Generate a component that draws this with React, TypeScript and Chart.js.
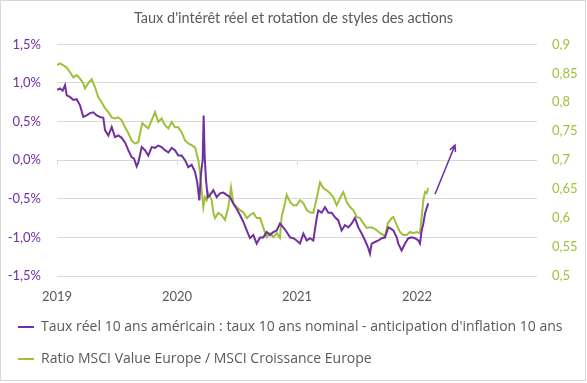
import React, { useEffect, useRef } from "react";
import { Chart, registerables } from "chart.js";

Chart.register(...registerables);

const TITLE = "Taux d'intérêt réel et rotation de styles des actions";
const SERIES_REAL = "Taux réel 10 ans américain : taux 10 ans nominal - anticipation d'inflation 10 ans";
const SERIES_RATIO = "Ratio MSCI Value Europe / MSCI Croissance Europe";

const YEAR_TICKS = [2019, 2020, 2021, 2022];

// US 10y real rate (%), x in decimal years
const realYears = [
  2019.0, 2019.025, 2019.047, 2019.067, 2019.081, 2019.108, 2019.136, 2019.164, 2019.192, 2019.219,
  2019.247, 2019.275, 2019.303, 2019.331, 2019.358, 2019.386, 2019.4, 2019.428, 2019.456, 2019.483,
  2019.511, 2019.539, 2019.567, 2019.594, 2019.622, 2019.642, 2019.664, 2019.678, 2019.706, 2019.733,
  2019.761, 2019.789, 2019.817, 2019.844, 2019.872, 2019.9, 2019.928, 2019.956, 2019.983, 2020.011,
  2020.039, 2020.067, 2020.094, 2020.122, 2020.15, 2020.169, 2020.186, 2020.2, 2020.214, 2020.222,
  2020.231, 2020.242, 2020.256, 2020.275, 2020.303, 2020.331, 2020.358, 2020.386, 2020.414, 2020.442,
  2020.469, 2020.497, 2020.525, 2020.553, 2020.581, 2020.608, 2020.636, 2020.664, 2020.692, 2020.719,
  2020.747, 2020.775, 2020.803, 2020.831, 2020.858, 2020.886, 2020.914, 2020.942, 2020.969, 2020.997,
  2021.025, 2021.053, 2021.081, 2021.108, 2021.136, 2021.164, 2021.178, 2021.206, 2021.233, 2021.261,
  2021.289, 2021.317, 2021.344, 2021.372, 2021.4, 2021.428, 2021.456, 2021.483, 2021.511, 2021.539,
  2021.567, 2021.594, 2021.608, 2021.622, 2021.65, 2021.678, 2021.706, 2021.733, 2021.761, 2021.775,
  2021.803, 2021.831, 2021.844, 2021.872, 2021.9, 2021.928, 2021.956, 2021.983, 2022.011, 2022.025,
  2022.039, 2022.053, 2022.067, 2022.081, 2022.094,
];
const realValues = [
  0.91, 0.93, 0.9, 0.97, 0.84, 0.82, 0.78, 0.79, 0.71, 0.56,
  0.58, 0.61, 0.62, 0.58, 0.56, 0.55, 0.39, 0.32, 0.43, 0.3,
  0.32, 0.29, 0.23, 0.13, 0.04, 0.02, -0.08, -0.03, 0.17, 0.13,
  0.06, 0.17, 0.16, 0.19, 0.17, 0.13, 0.1, 0.16, 0.13, 0.06,
  0.06, 0.0, -0.09, -0.06, -0.15, -0.29, -0.52, -0.17, 0.0, 0.58,
  0.04, -0.26, -0.48, -0.45, -0.39, -0.48, -0.43, -0.42, -0.45, -0.48,
  -0.56, -0.63, -0.71, -0.8, -0.91, -1.01, -0.97, -1.08, -1.0, -1.0,
  -0.93, -0.97, -0.93, -0.91, -0.82, -0.87, -0.93, -1.0, -1.01, -1.04,
  -1.08, -0.95, -1.04, -1.01, -1.04, -0.75, -0.65, -0.68, -0.61, -0.68,
  -0.68, -0.74, -0.78, -0.91, -0.84, -0.87, -0.82, -0.75, -0.87, -0.95,
  -1.04, -1.14, -1.21, -1.08, -1.06, -1.04, -1.01, -1.0, -0.87, -0.88,
  -0.91, -1.0, -1.08, -1.17, -1.08, -1.01, -1.0, -1.01, -1.04, -1.08,
  -0.91, -0.82, -0.69, -0.62, -0.56,
];

// MSCI Value Europe / MSCI Growth Europe ratio
const ratioYears = [
  2019.0, 2019.025, 2019.053, 2019.081, 2019.108, 2019.136, 2019.164, 2019.192, 2019.219, 2019.233,
  2019.261, 2019.289, 2019.317, 2019.344, 2019.372, 2019.4, 2019.428, 2019.456, 2019.483, 2019.511,
  2019.539, 2019.567, 2019.594, 2019.622, 2019.65, 2019.678, 2019.692, 2019.711, 2019.733, 2019.761,
  2019.789, 2019.817, 2019.844, 2019.872, 2019.9, 2019.928, 2019.956, 2019.983, 2020.011, 2020.039,
  2020.067, 2020.094, 2020.122, 2020.15, 2020.178, 2020.192, 2020.206, 2020.219, 2020.233, 2020.247,
  2020.261, 2020.289, 2020.303, 2020.317, 2020.344, 2020.372, 2020.4, 2020.428, 2020.45, 2020.469,
  2020.497, 2020.525, 2020.553, 2020.581, 2020.608, 2020.636, 2020.664, 2020.692, 2020.719, 2020.747,
  2020.775, 2020.803, 2020.831, 2020.858, 2020.872, 2020.9, 2020.914, 2020.942, 2020.969, 2020.997,
  2021.025, 2021.053, 2021.081, 2021.108, 2021.136, 2021.164, 2021.192, 2021.219, 2021.247, 2021.275,
  2021.303, 2021.331, 2021.358, 2021.372, 2021.386, 2021.414, 2021.442, 2021.469, 2021.497, 2021.525,
  2021.553, 2021.581, 2021.608, 2021.636, 2021.664, 2021.692, 2021.719, 2021.733, 2021.756, 2021.789,
  2021.803, 2021.831, 2021.858, 2021.886, 2021.914, 2021.942, 2021.969, 2021.997, 2022.025, 2022.039,
  2022.053, 2022.067, 2022.081, 2022.094,
];
const ratioValues = [
  0.864, 0.867, 0.864, 0.86, 0.852, 0.843, 0.847, 0.841, 0.833, 0.824,
  0.833, 0.84, 0.826, 0.809, 0.8, 0.79, 0.783, 0.774, 0.772, 0.774,
  0.769, 0.757, 0.747, 0.734, 0.729, 0.731, 0.747, 0.764, 0.76, 0.755,
  0.769, 0.783, 0.766, 0.772, 0.76, 0.755, 0.766, 0.757, 0.757, 0.748,
  0.734, 0.729, 0.726, 0.722, 0.7, 0.678, 0.648, 0.619, 0.636, 0.631,
  0.643, 0.631, 0.609, 0.6, 0.609, 0.605, 0.597, 0.619, 0.653, 0.626,
  0.619, 0.614, 0.61, 0.6, 0.605, 0.609, 0.6, 0.6, 0.584, 0.567,
  0.574, 0.567, 0.574, 0.566, 0.602, 0.626, 0.64, 0.628, 0.622, 0.622,
  0.631, 0.626, 0.614, 0.61, 0.609, 0.634, 0.662, 0.652, 0.648, 0.643,
  0.636, 0.622, 0.634, 0.64, 0.645, 0.628, 0.619, 0.614, 0.602, 0.6,
  0.591, 0.583, 0.584, 0.583, 0.579, 0.574, 0.571, 0.567, 0.591, 0.6,
  0.602, 0.588, 0.576, 0.571, 0.571, 0.576, 0.574, 0.576, 0.574, 0.602,
  0.631, 0.645, 0.643, 0.652,
];

// annotation arrow (x in years, y on the left % axis)
const arrowFrom = { x: 2022.15, y: -0.44 };
const arrowTo = { x: 2022.317, y: 0.195 };

const PURPLE = "#7030A0";
const GREEN = "#9FC13A";
const GREY_TEXT = "#595959";
const GRID = "#D9D9D9";
const FONT = "Lato, 'Open Sans', sans-serif";
const LEGEND_FONT = "'Open Sans', Lato, sans-serif";

const decorPlugin = {
  id: "decor",
  beforeDatasetsDraw(chart: any) {
    const { ctx, scales } = chart;
    const x = scales.x;
    const y = scales.y;
    const y0 = y.getPixelForValue(0);
    ctx.save();
    ctx.strokeStyle = GRID;
    ctx.lineWidth = 1;
    YEAR_TICKS.forEach((yr) => {
      const px = Math.round(x.getPixelForValue(yr)) + 0.5;
      ctx.beginPath();
      ctx.moveTo(px, y0);
      ctx.lineTo(px, y0 + 5);
      ctx.stroke();
    });
    ctx.restore();
  },
  afterDatasetsDraw(chart: any) {
    const { ctx, scales } = chart;
    const x = scales.x;
    const y = scales.y;
    const x1 = x.getPixelForValue(arrowFrom.x);
    const y1 = y.getPixelForValue(arrowFrom.y);
    const x2 = x.getPixelForValue(arrowTo.x);
    const y2 = y.getPixelForValue(arrowTo.y);
    const ang = Math.atan2(y2 - y1, x2 - x1);
    const head = 7;
    ctx.save();
    ctx.strokeStyle = PURPLE;
    ctx.lineWidth = 1.5;
    ctx.beginPath();
    ctx.moveTo(x1, y1);
    ctx.lineTo(x2, y2);
    ctx.moveTo(x2 - head * Math.cos(ang - 0.45), y2 - head * Math.sin(ang - 0.45));
    ctx.lineTo(x2, y2);
    ctx.lineTo(x2 - head * Math.cos(ang + 0.45), y2 - head * Math.sin(ang + 0.45));
    ctx.stroke();
    ctx.restore();
  },
  afterDraw(chart: any) {
    const { ctx } = chart;
    ctx.save();
    ctx.strokeStyle = GRID;
    ctx.lineWidth = 1;
    ctx.strokeRect(0.5, 0.5, chart.width - 2, chart.height - 3);
    ctx.restore();
  },
};

export default function App() {
  const ref = useRef<HTMLCanvasElement | null>(null);

  useEffect(() => {
    document.body.style.margin = "0";
    const canvas = ref.current;
    if (!canvas) return;
    const chart = new Chart(canvas, {
      type: "line",
      data: {
        datasets: [
          {
            label: SERIES_REAL,
            data: realYears.map((x, i) => ({ x, y: realValues[i] })),
            borderColor: PURPLE,
            backgroundColor: PURPLE,
            borderWidth: 2,
            pointRadius: 0,
            tension: 0,
            yAxisID: "y",
          },
          {
            label: SERIES_RATIO,
            data: ratioYears.map((x, i) => ({ x, y: ratioValues[i] })),
            borderColor: GREEN,
            backgroundColor: GREEN,
            borderWidth: 2,
            pointRadius: 0,
            tension: 0,
            yAxisID: "y1",
          },
        ],
      },
      options: {
        responsive: false,
        animation: false,
        layout: { padding: { left: 0, right: 0, top: 0, bottom: 7 } },
        scales: {
          x: {
            type: "linear",
            min: 2019,
            max: 2023,
            border: { display: false },
            grid: { display: false, drawTicks: false },
            afterFit: (s: any) => {
              s.height = 26;
            },
            afterBuildTicks: (s: any) => {
              s.ticks = YEAR_TICKS.map((v) => ({ value: v }));
            },
            ticks: {
              padding: 13,
              color: GREY_TEXT,
              font: { family: FONT, size: 13 },
              maxRotation: 0,
              autoSkip: false,
              callback: (v: any) => String(v),
            },
          },
          y: {
            position: "left",
            min: -1.5,
            max: 1.5,
            border: { display: false },
            grid: { color: GRID, drawTicks: false },
            afterFit: (s: any) => {
              s.width = 57;
            },
            ticks: {
              stepSize: 0.5,
              padding: 16,
              color: PURPLE,
              font: { family: FONT, size: 13 },
              callback: (v: any) => Number(v).toFixed(1).replace(".", ",") + "%",
            },
          },
          y1: {
            position: "right",
            min: 0.5,
            max: 0.9,
            border: { display: false },
            grid: { display: false, drawTicks: false },
            afterFit: (s: any) => {
              s.width = 50;
            },
            ticks: {
              stepSize: 0.05,
              padding: 15,
              color: GREEN,
              font: { family: FONT, size: 13 },
              callback: (v: any) => String(Math.round(Number(v) * 100) / 100).replace(".", ","),
            },
          },
        },
        plugins: {
          title: {
            display: true,
            text: TITLE,
            color: GREY_TEXT,
            font: { family: FONT, size: 14.5, weight: "normal" },
            padding: { top: 10, bottom: 17 },
          },
          legend: {
            display: true,
            position: "bottom",
            align: "start",
            labels: {
              usePointStyle: true,
              pointStyle: "line",
              pointStyleWidth: 16,
              boxHeight: 14,
              padding: 18,
              color: GREY_TEXT,
              font: { family: LEGEND_FONT, size: 14 },
            },
          },
          tooltip: { enabled: false },
        },
      },
      plugins: [decorPlugin],
    });
    return () => chart.destroy();
  }, []);

  return <canvas ref={ref} width={587} height={383} style={{ display: "block" }} />;
}
